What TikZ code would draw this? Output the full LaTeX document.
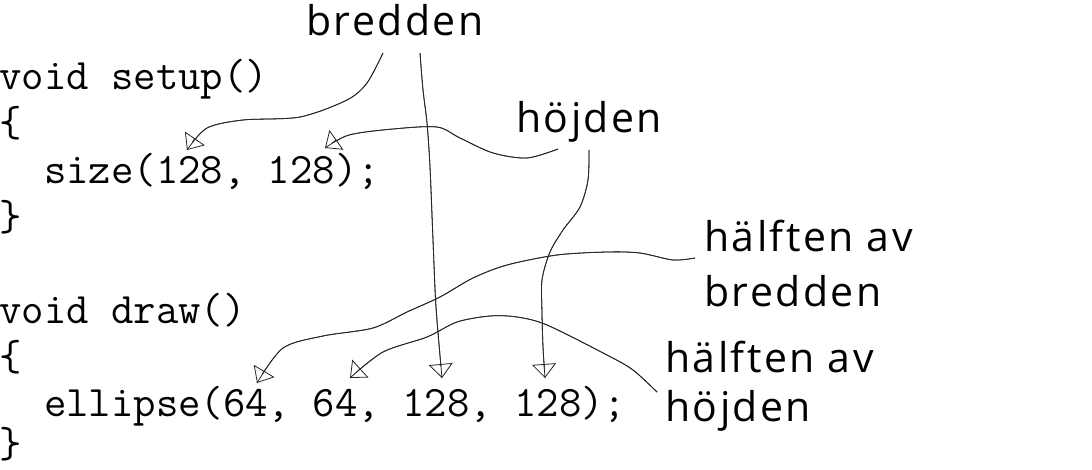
\documentclass[tikz,border=0pt]{standalone}
\usepackage{fontspec}
\setmainfont{Open Sans}
\newfontfamily\mylblfamily[LetterSpace=6]{Open Sans}
\usetikzlibrary{arrows.meta}
\newcommand\mycodefont{\fontsize{43.5}{47}\selectfont\ttfamily}
\newcommand\mylblfont{\fontsize{41}{48}\selectfont\mylblfamily}
\begin{document}
\begin{tikzpicture}[x=1pt,y=-1pt,
  code/.style={anchor=base west, inner sep=0pt, font=\mycodefont},
  lbl/.style={anchor=base west, inner sep=0pt, font=\mylblfont},
  conn/.style={line width=0.8pt, draw=black!85,
    postaction={draw, -{Triangle[open,length=14pt,width=24pt,line width=0.8pt]}}}]
\useasboundingbox[fill=white] (0,0) rectangle (1092,470);

% code
\node[code] (c1) at (-1,90)    {void setup()};
\node[code] (c2) at (-1,136.7) {\{};
\node[code] (c3) at (-1,183.4) {\phantom{xx}size(128, 128);};
\node[code] (c4) at (-1,230.1) {\}};
\node[code] (c5) at (-1,323.5) {void draw()};
\node[code] (c6) at (-1,370.2) {\{};
\node[code] (c7) at (-1,416.9) {\phantom{xx}ellipse(64, 64, 128, 128);};
\node[code] (c8) at (-1,457)   {\}};

% labels
\node[lbl] (lb)   at (306,36)  {bredden};
\node[lbl] (lh)   at (516,133) {höjden};
\node[lbl] (lhb1) at (704,252) {hälften av};
\node[lbl] (lhb2) at (704,306) {bredden};
\node[lbl] (lhh1) at (665,372) {hälften av};
\node[lbl] (lhh2) at (665,421) {höjden};

% connector ends
\coordinate (s1) at (383,53);  \coordinate (t1) at (187,150);
\coordinate (s2) at (558,149); \coordinate (t2) at (325,148);
\coordinate (s3) at (420,53);  \coordinate (t3) at (442,378);
\coordinate (s4) at (589,150); \coordinate (t4) at (545,378);
\coordinate (s5) at (695,258); \coordinate (t5) at (257,383);
\coordinate (s6) at (657,392); \coordinate (t6) at (350,378);

\draw[conn] plot[smooth] coordinates {(s1) (367,83) (347,100) (300,117) (243,120) (207,128) (t1)};
\draw[conn] plot[smooth] coordinates {(s2) (527,158) (493,153) (460,138) (437,127) (393,129) (349,135) (t2)};
\draw[conn] plot[smooth] coordinates {(s3) (423,90) (427,123) (430,167) (433,240) (436,307) (t3)};
\draw[conn] plot[smooth] coordinates {(s4) (588,180) (580,207) (563,230) (550,252) (542,280) (542,313) (543,347) (t4)};
\draw[conn] plot[smooth] coordinates {(s5) (673,260) (640,253) (607,252) (557,255) (507,265) (473,278) (440,297) (407,312) (373,328) (323,336) (283,348) (t5)};
\draw[conn] plot[smooth] coordinates {(s6) (633,370) (607,355) (547,325) (517,317) (490,316) (457,322) (427,337) (383,352) (t6)};
\end{tikzpicture}
\end{document}
